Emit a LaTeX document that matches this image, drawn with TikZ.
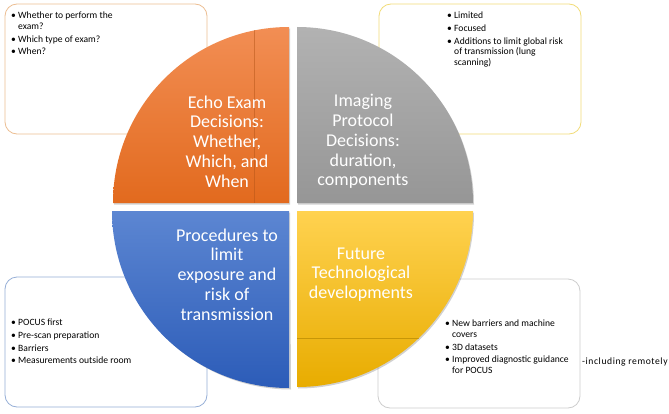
\documentclass[tikz,border=0pt]{standalone}
\usepackage{fontspec}
\setmainfont{Carlito}
\usetikzlibrary{shadings}
\definecolor{orTop}{RGB}{242,142,84}
\definecolor{orBot}{RGB}{226,106,30}
\definecolor{grTop}{RGB}{178,178,178}
\definecolor{grBot}{RGB}{150,150,150}
\definecolor{blTop}{RGB}{92,134,210}
\definecolor{blBot}{RGB}{44,92,184}
\definecolor{yeTop}{RGB}{255,210,80}
\definecolor{yeBot}{RGB}{232,172,0}
\definecolor{bdOr}{RGB}{236,190,146}
\definecolor{bdYe}{RGB}{242,220,120}
\definecolor{bdBl}{RGB}{150,175,215}
\definecolor{bdGr}{RGB}{205,205,205}
\newcommand{\bl}[1]{\makebox[7bp][l]{\textbullet}#1}
\newcommand{\cl}[1]{\hspace*{7bp}#1}
\tikzset{
  sidebox/.style={rounded corners=12bp, line width=0.8bp, fill=white},
  listtext/.style={anchor=north west, inner sep=0pt, align=left,
    font=\fontsize{9.6bp}{10.6bp}\selectfont, text=black},
  quadtext/.style={align=center, inner sep=0pt, text=white,
    font=\fontsize{18bp}{19.8bp}\selectfont},
  qshadow/.style={fill=black, opacity=0.18},
}
\begin{document}
\begin{tikzpicture}[x=1bp,y=1bp]
\useasboundingbox (0,0) rectangle (669,413);
\fill[white] (0,0) rectangle (669,413);
% side boxes
\draw[sidebox, draw=bdOr] (5,279) rectangle (207,409);
\draw[sidebox, draw=bdYe] (379,279) rectangle (581,409);
\draw[sidebox, draw=bdBl] (5,6) rectangle (207,136);
\draw[sidebox, draw=bdGr] (378,5) rectangle (580,134);
% shadows
\fill[qshadow] (290,208.5) -- (114,208.5) arc[start angle=180,end angle=90,radius=176] -- cycle;
\fill[qshadow] (298,208.5) -- (298,384.5) arc[start angle=90,end angle=0,radius=176] -- cycle;
\fill[qshadow] (290,200.5) -- (114,200.5) arc[start angle=180,end angle=270,radius=177] -- cycle;
\fill[qshadow] (298,200.5) -- (474,200.5) arc[start angle=0,end angle=-90,radius=176] -- cycle;
% quadrants
\shade[top color=orTop, bottom color=orBot] (289,210) -- (113,210) arc[start angle=180,end angle=90,radius=176] -- cycle;
\shade[top color=grTop, bottom color=grBot] (297,210) -- (297,386) arc[start angle=90,end angle=0,radius=176] -- cycle;
\shade[top color=blTop, bottom color=blBot] (289,202) -- (112,202) arc[start angle=180,end angle=270,radius=177] -- cycle;
\shade[top color=yeTop, bottom color=yeBot] (297,202) -- (473,202) arc[start angle=0,end angle=-90,radius=176] -- cycle;
% faint inner lines
\coordinate (oA) at (254,382.5);
\coordinate (oB) at (254,210);
\draw[line width=0.6bp, draw=orBot!80!black, opacity=0.5] (oA) -- (oB);
\coordinate (yA) at (297,75);
\coordinate (yB) at (418.8,75);
\draw[line width=0.6bp, draw=yeBot!75!black, opacity=0.6] (yA) -- (yB);
% quadrant texts
\node[quadtext] (qo) at (227,271.5) {Echo Exam\\Decisions:\\Whether,\\Which, and\\When};
\node[quadtext] (qg) at (363,271.5) {Imaging\\Protocol\\Decisions:\\duration,\\components};
\node[quadtext] (qb) at (227,138.5) {Procedures to\\limit\\exposure and\\risk of\\transmission};
\node[quadtext] (qy) at (361,138.5) {Future\\Technological\\developments};
% lists
\node[listtext] (lo) at (11,401) {\bl{Whether to perform the}\\\cl{exam?}\\[2bp]\bl{Which type of exam?}\\[2bp]\bl{When?}};
\node[listtext] (lg) at (447,401) {\bl{Limited}\\[2bp]\bl{Focused}\\[2bp]\bl{Additions to limit global risk}\\\cl{of transmission (lung}\\\cl{scanning)}};
\node[listtext] (lb) at (11,94) {\bl{POCUS first}\\[2bp]\bl{Pre-scan preparation}\\[2bp]\bl{Barriers}\\[2bp]\bl{Measurements outside room}};
\node[listtext] (ly) at (445,93) {\bl{New barriers and machine}\\\cl{covers}\\[2bp]\bl{3D datasets}\\[2bp]\bl{Improved diagnostic guidance}\\\cl{for POCUS}};
\node[listtext, anchor=west, font=\fontsize{9.6bp}{10.6bp}\selectfont\addfontfeature{LetterSpace=6}] (rem) at (582,51) {-including remotely};
\end{tikzpicture}
\end{document}
